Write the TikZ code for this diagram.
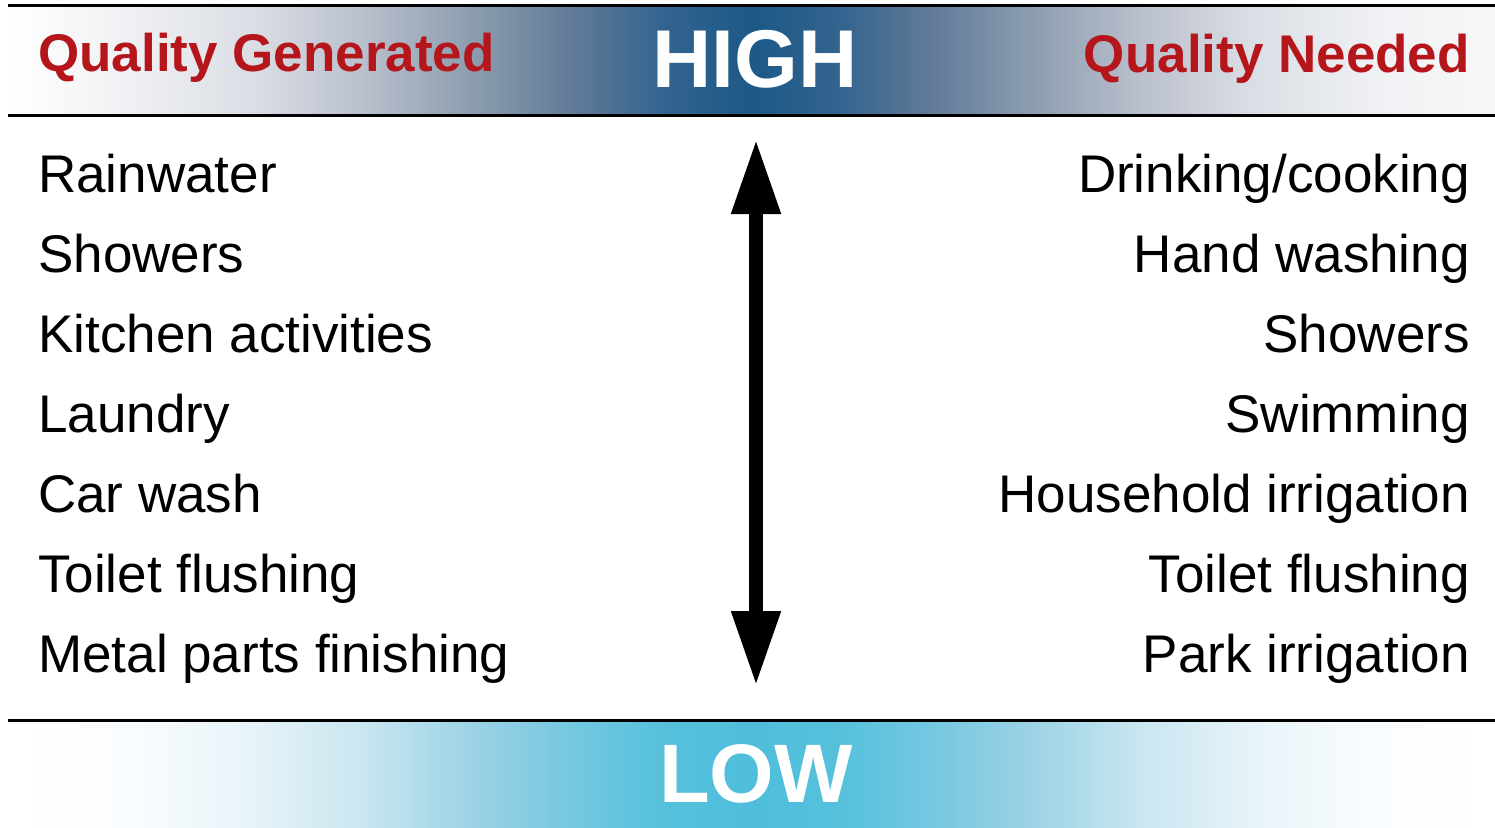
\documentclass[tikz,border=0pt]{standalone}
\usepackage{fontspec}
\setmainfont{Liberation Sans}
\usetikzlibrary{arrows.meta}
\definecolor{qred}{RGB}{181,22,27}
\pgfdeclarehorizontalshading{hibar}{100bp}{
  rgb(0bp)=(1,1,1); rgb(25bp)=(1,1,1);
  rgb(29bp)=(0.94,0.945,0.955);
  rgb(33bp)=(0.86,0.875,0.90);
  rgb(37bp)=(0.725,0.75,0.80);
  rgb(41bp)=(0.53,0.60,0.675);
  rgb(44bp)=(0.38,0.48,0.60);
  rgb(47bp)=(0.20,0.39,0.56);
  rgb(50bp)=(0.11,0.35,0.53);
  rgb(53bp)=(0.20,0.39,0.56);
  rgb(56bp)=(0.38,0.48,0.60);
  rgb(59bp)=(0.53,0.60,0.675);
  rgb(63bp)=(0.725,0.75,0.80);
  rgb(67bp)=(0.86,0.875,0.90);
  rgb(71bp)=(0.94,0.945,0.955);
  rgb(75bp)=(0.97,0.97,0.975); rgb(100bp)=(0.97,0.97,0.975)}
\pgfdeclarehorizontalshading{lobar}{100bp}{
  rgb(0bp)=(1,1,1); rgb(25bp)=(1,1,1);
  rgb(29bp)=(0.98,0.99,1);
  rgb(33bp)=(0.91,0.955,0.975);
  rgb(37bp)=(0.785,0.90,0.94);
  rgb(41bp)=(0.59,0.82,0.895);
  rgb(44bp)=(0.45,0.785,0.88);
  rgb(47bp)=(0.34,0.755,0.863);
  rgb(50bp)=(0.305,0.745,0.863);
  rgb(53bp)=(0.34,0.755,0.863);
  rgb(56bp)=(0.45,0.785,0.88);
  rgb(59bp)=(0.59,0.82,0.895);
  rgb(63bp)=(0.785,0.90,0.94);
  rgb(67bp)=(0.91,0.955,0.975);
  rgb(71bp)=(0.98,0.99,1);
  rgb(75bp)=(1,1,1); rgb(100bp)=(1,1,1)}
\tikzset{
  bartext/.style={text=white,font=\bfseries\fontsize{82}{90}\selectfont,inner sep=0pt},
  headtext/.style={text=qred,font=\bfseries\fontsize{53}{60}\selectfont,inner sep=0pt},
  itemL/.style={font=\fontsize{53}{60}\selectfont,inner sep=0pt,anchor=base west},
  itemR/.style={font=\fontsize{53}{60}\selectfont,inner sep=0pt,anchor=base east},
  barline/.style={line width=3pt,black},
  bigarrow/.style={line width=14pt,{Triangle[length=75pt,width=46pt]}-{Triangle[length=75pt,width=46pt]}}
}
\begin{document}
\begin{tikzpicture}[x=1pt,y=-1pt]
\useasboundingbox (0,0) rectangle (1495,827);
% top bar
\shade[shading=hibar] (8,5) rectangle (1495,115);
\draw[barline] (8,5) -- (1495,5);
\draw[barline] (8,115) -- (1495,115);
% bottom bar
\shade[shading=lobar] (8,720) rectangle (1495,827);
\draw[barline] (8,720) -- (1495,720);
% headings
\node[bartext,anchor=base] (high) at (755,87) {HIGH};
\node[bartext,anchor=base,font=\bfseries\fontsize{83}{90}\selectfont] (low) at (756,802) {LOW};
\node[headtext,anchor=base west] (qg) at (38,71) {Quality Generated};
\node[headtext,anchor=base east] (qn) at (1470,72) {Quality Needed};
% left items
\node[itemL] (l1) at (38,192) {Rainwater};
\node[itemL] (l2) at (38,272) {Showers};
\node[itemL] (l3) at (38,352) {Kitchen activities};
\node[itemL] (l4) at (38,432) {Laundry};
\node[itemL] (l5) at (38,512) {Car wash};
\node[itemL] (l6) at (38,592) {Toilet flushing};
\node[itemL] (l7) at (38,672) {Metal parts finishing};
% right items
\node[itemR] (r1) at (1470,192) {Drinking/cooking};
\node[itemR] (r2) at (1470,272) {Hand washing};
\node[itemR] (r3) at (1470,352) {Showers};
\node[itemR] (r4) at (1470,432) {Swimming};
\node[itemR] (r5) at (1470,512) {Household irrigation};
\node[itemR] (r6) at (1470,592) {Toilet flushing};
\node[itemR] (r7) at (1470,672) {Park irrigation};
% arrow
\coordinate (up) at (756,139);
\coordinate (dn) at (756,686);
\draw[bigarrow] (up) -- (dn);
\end{tikzpicture}
\end{document}
